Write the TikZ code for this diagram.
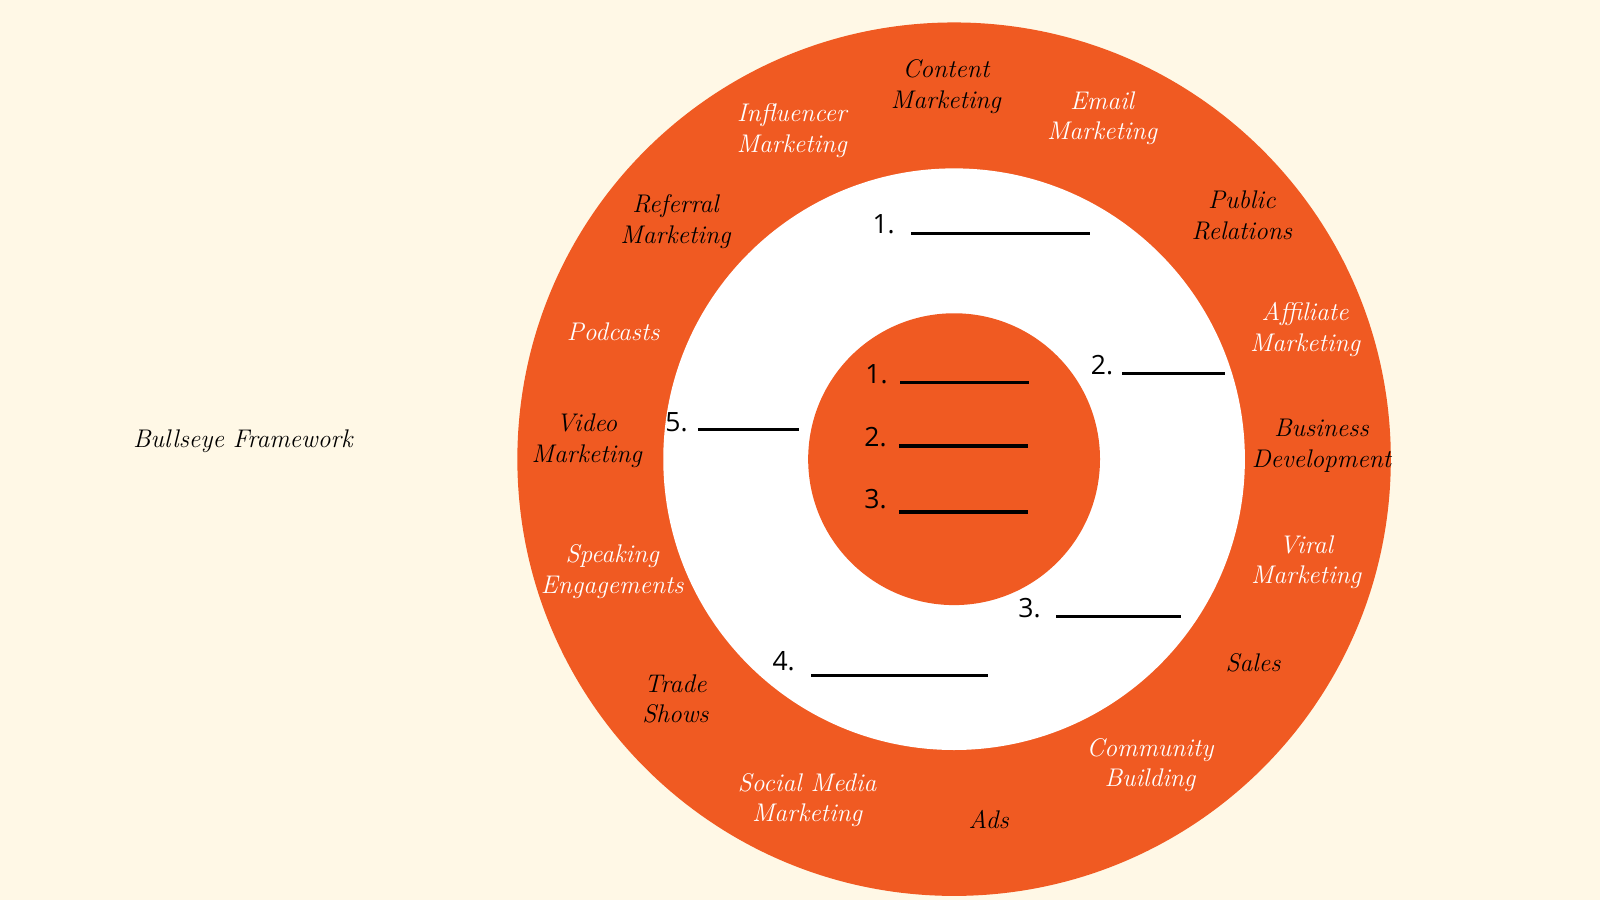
\documentclass[tikz,border=0pt]{standalone}
\usepackage{fontspec}
\setsansfont{Open Sans}
\begin{document}
\begin{tikzpicture}[x=1pt,y=-1pt,
  lab/.style={font=\fontsize{25}{30}\selectfont\itshape, align=center, inner sep=0},
  wl/.style={lab,text=white},
  bl/.style={lab,text=black},
  num/.style={font=\sffamily\fontsize{26}{30}\selectfont, inner sep=0},
  blank/.style={line width=3.5pt}]
\definecolor{bg}{HTML}{FFF8E6}
\definecolor{org}{HTML}{F05A22}
\fill[bg] (0,0) rectangle (1568,882);
\useasboundingbox (0,0) rectangle (1568,882);
\fill[org] (935,450) circle (428);
\fill[white] (935,450) circle (285);
\fill[org] (935,450) circle (143);
\node[bl] (t1) at (927,85) {Content\\Marketing};
\node[wl] (t2) at (776,128) {Influencer\\Marketing};
\node[wl] (t3) at (1080,116) {Email\\Marketing};
\node[bl] (t4) at (662,217) {Referral\\Marketing};
\node[bl] (t5) at (1217,211) {Public\\Relations};
\node[wl] (t6) at (601,325) {Podcasts};
\node[wl] (t7) at (1279,323) {Affiliate\\Marketing};
\node[bl] (t8) at (575,432) {Video\\Marketing};
\node[bl] (t9) at (1295,437) {Business\\Development};
\node[wl] (t10) at (600,560) {Speaking\\Engagements};
\node[wl] (t11) at (1280,551) {Viral\\Marketing};
\node[bl] (t12) at (662,685) {Trade\\Shows};
\node[bl] (t13) at (1228,650) {Sales};
\node[wl] (t14) at (791,784) {Social Media\\Marketing};
\node[bl] (t15) at (969,803) {Ads};
\node[wl] (t16) at (1127,750) {Community\\Building};
\node[bl] (title) at (238,432) {Bullseye Framework};
% middle ring blanks
\node[num] (m1) at (866,220) {1.};
\draw[blank] (893,229) coordinate (m1a) -- (1068,229) coordinate (m1b);
\node[num] (m2) at (1080,358) {2.};
\draw[blank] (1100,366) coordinate (m2a) -- (1200,366) coordinate (m2b);
\node[num] (m5) at (663,414) {5.};
\draw[blank] (684,421) coordinate (m5a) -- (783,421) coordinate (m5b);
\node[num] (m3) at (1009,596) {3.};
\draw[blank] (1035,604) coordinate (m3a) -- (1157,604) coordinate (m3b);
\node[num] (m4) at (768,648) {4.};
\draw[blank] (795,662) coordinate (m4a) -- (968,662) coordinate (m4b);
% inner blanks
\node[num] (i1) at (859,367) {1.};
\draw[blank] (882,375) coordinate (i1a) -- (1008,375) coordinate (i1b);
\node[num] (i2) at (858,428) {2.};
\draw[blank] (881,437) coordinate (i2a) -- (1007,437) coordinate (i2b);
\node[num] (i3) at (858,489) {3.};
\draw[blank] (881,502) coordinate (i3a) -- (1007,502) coordinate (i3b);
\end{tikzpicture}
\end{document}
